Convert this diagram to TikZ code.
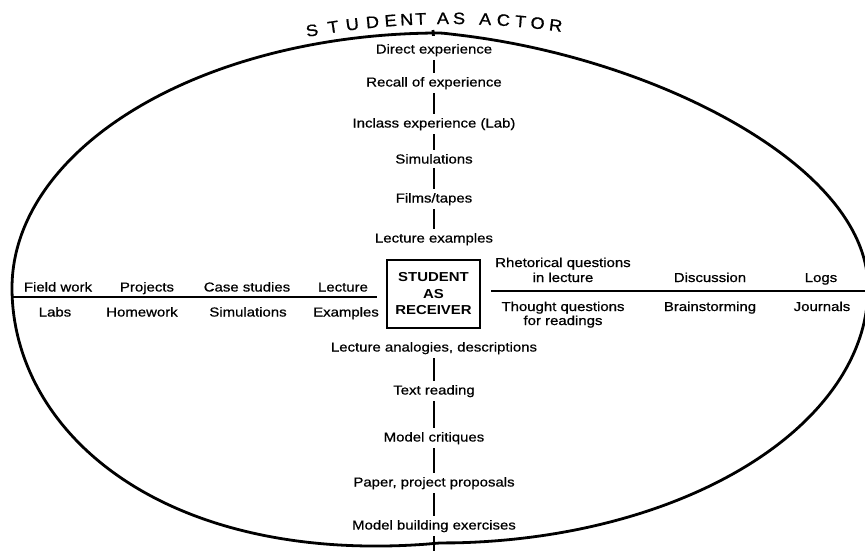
\documentclass[tikz,border=0pt]{standalone}
\usepackage{fontspec}
\setmainfont[FakeStretch=1.15]{Liberation Sans}
\newfontfamily\lblfont[FakeStretch=1.15, FakeBold=0.7]{Liberation Sans}
\newfontfamily\ttlfont[FakeStretch=1.1, FakeBold=0.9]{Liberation Sans}
\begin{document}
\begin{tikzpicture}[x=1pt,y=-1pt,
  lbl/.style={inner sep=0pt, anchor=base, font=\lblfont\fontsize{13}{15}\selectfont},
  bar/.style={line width=2.8pt, shorten <=4pt, shorten >=4pt},
  rule/.style={line width=2.4pt},
  ell/.style={line width=2.8pt},
  boxn/.style={draw, line width=2pt, minimum width=93pt, minimum height=68pt, inner sep=0pt, align=center, font=\fontsize{13}{16.5}\selectfont\bfseries},
  ttl/.style={inner sep=0pt, anchor=base, font=\ttlfont\fontsize{16.5}{19}\selectfont}]
\useasboundingbox (0,0) rectangle (865,550);

% outer ellipse (hand drawn, fuller at lower left)
\draw[ell] plot[domain=0:358, samples=180, smooth cycle]
  ({440+428*cos(\x)}, {288+255*sin(\x)+40*max(0,-sin(\x)*cos(\x))});

% arched title
\foreach \ch/\x [count=\i] in {S/313,T/334,U/353,D/373,E/391,N/407,T/421,A/443,S/459,A/485,C/503,T/520,O/537,R/555}{
  \pgfmathsetmacro\dx{\x-450}
  \pgfmathsetmacro\yy{24+1.019*(\dx/40)^2}
  \pgfmathsetmacro\ang{-asin(\dx/785)}
  \node[ttl, rotate=\ang] (t\i) at (\x,\yy) {\ch};
}

% central box
\node[boxn] (box) at (433.5,294) {STUDENT\\AS\\RECEIVER};

% upper chain
\coordinate (top) at (433,30);
\node[lbl] (d1) at (434,53.5) {Direct experience};
\node[lbl] (d2) at (434,86.5) {Recall of experience};
\node[lbl] (d3) at (434,127.5) {Inclass experience (Lab)};
\node[lbl] (d4) at (434,163.5) {Simulations};
\node[lbl] (d5) at (434,202.5) {Films/tapes};
\node[lbl] (d6) at (434,242.5) {Lecture examples};
\draw[bar, shorten <=0pt, shorten >=8pt] (top) -- (d1.north);
\draw[bar] (d1.south) -- (d2.north);
\draw[bar] (d2.south) -- (d3.north);
\draw[bar] (d3.south) -- (d4.north);
\draw[bar] (d4.south) -- (d5.north);
\draw[bar] (d5.south) -- (d6.north);

% lower chain
\node[lbl] (b1) at (434,351.5) {Lecture analogies, descriptions};
\node[lbl] (b2) at (434,394.5) {Text reading};
\node[lbl] (b3) at (434,441.5) {Model critiques};
\node[lbl] (b4) at (434,486.5) {Paper, project proposals};
\node[lbl] (b5) at (434,529.5) {Model building exercises};
\coordinate (bot) at (434,553);
\draw[bar] (b1.south) -- (b2.north);
\draw[bar] (b2.south) -- (b3.north);
\draw[bar] (b3.south) -- (b4.north);
\draw[bar] (b4.south) -- (b5.north);
\draw[bar, shorten >=0pt] (b5.south) -- (bot);

% horizontal axis
\coordinate (eL) at (12,297);
\coordinate (eR) at (869,291);
\draw[rule, shorten >=9pt] (eL) -- (eL -| box.west);
\draw[rule, shorten <=10pt] (eR -| box.east) -- (eR);

% left labels
\node[lbl] (l1) at (58,291.5) {Field work};
\node[lbl] (l2) at (147,291.5) {Projects};
\node[lbl] (l3) at (247,291.5) {Case studies};
\node[lbl] (l4) at (343,291.5) {Lecture};
\node[lbl] (l5) at (55,316.5) {Labs};
\node[lbl] (l6) at (142,316.5) {Homework};
\node[lbl] (l7) at (248,316.5) {Simulations};
\node[lbl] (l8) at (346,316.5) {Examples};

% right labels
\node[lbl] (r1) at (563,267) {Rhetorical questions};
\node[lbl] (r2) at (563,282) {in lecture};
\node[lbl] (r3) at (563,311) {Thought questions};
\node[lbl] (r4) at (563,325) {for readings};
\node[lbl] (r5) at (710,282) {Discussion};
\node[lbl] (r6) at (710,311) {Brainstorming};
\node[lbl] (r7) at (821,282) {Logs};
\node[lbl] (r8) at (822,311) {Journals};
\end{tikzpicture}
\end{document}
